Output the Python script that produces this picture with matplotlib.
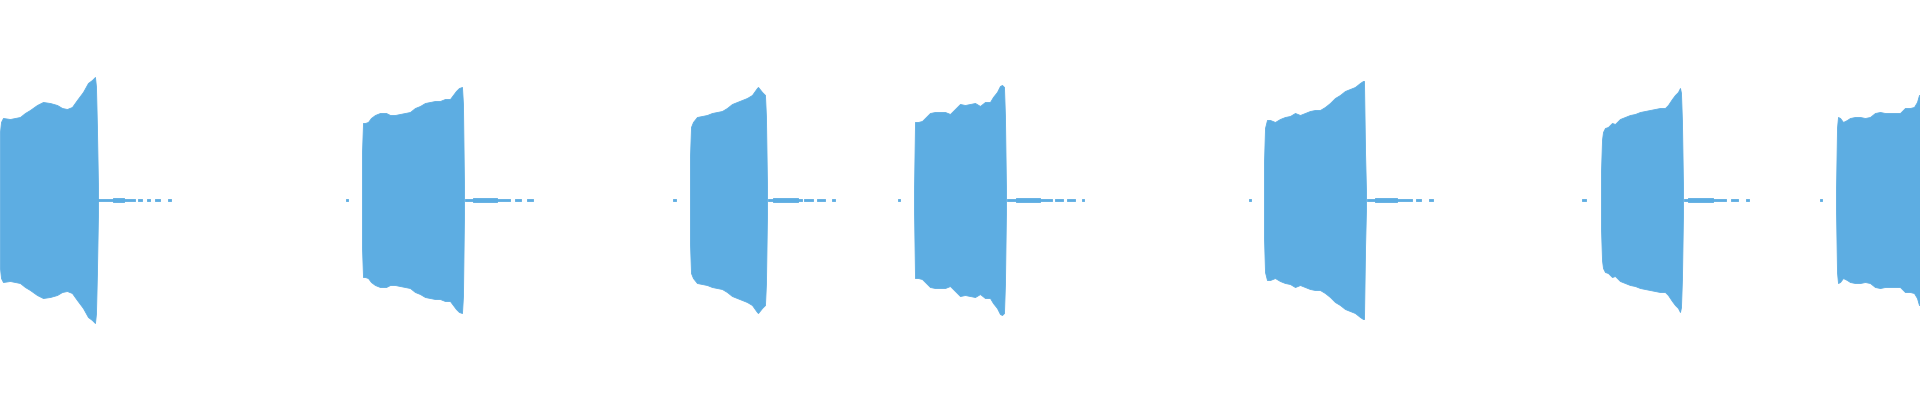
""" Waveform overview: seven tone bursts drawn as a min/max envelope.
"""
import matplotlib
matplotlib.use('Agg')
import matplotlib.pyplot as plt
import numpy as np

WAVE_COLOR = '#5dade2'

# Frame index of envelope samples and peak amplitude (full scale = 1.0)
burst_1_x = [0, 1, 3, 10, 20, 25, 30, 37, 43, 50, 57, 62, 67, 72, 77, 83, 88,
             92, 95, 96, 97, 98]
burst_1_amp = [0.34, 0.39, 0.41, 0.405, 0.415, 0.435, 0.45, 0.475, 0.49, 0.485,
               0.475, 0.46, 0.455, 0.465, 0.5, 0.54, 0.585, 0.6, 0.615, 0.565,
               0.35, 0.06]

burst_2_x = [362, 363, 365, 368, 371, 375, 380, 386, 390, 395, 400, 405, 410,
             415, 420, 425, 430, 435, 440, 445, 450, 453, 456, 459, 462, 463,
             464]
burst_2_amp = [0.235, 0.385, 0.385, 0.39, 0.41, 0.425, 0.435, 0.435, 0.425,
               0.425, 0.43, 0.435, 0.44, 0.46, 0.47, 0.485, 0.49, 0.495, 0.495,
               0.505, 0.505, 0.525, 0.545, 0.56, 0.565, 0.475, 0.065]

burst_3_x = [690, 691, 693, 697, 702, 707, 712, 717, 722, 727, 732, 737, 742,
             747, 752, 757, 758, 762, 765, 766, 767]
burst_3_amp = [0.215, 0.365, 0.39, 0.415, 0.42, 0.425, 0.435, 0.44, 0.445,
               0.46, 0.48, 0.49, 0.5, 0.51, 0.525, 0.56, 0.565, 0.54, 0.525,
               0.41, 0.065]

burst_4_x = [914, 915, 918, 922, 925, 930, 935, 940, 945, 950, 955, 960, 965,
             970, 975, 980, 985, 990, 993, 997, 1000, 1002, 1004, 1005, 1006]
burst_4_amp = [0.04, 0.39, 0.39, 0.395, 0.41, 0.435, 0.44, 0.44, 0.44, 0.43,
               0.455, 0.48, 0.475, 0.48, 0.485, 0.47, 0.49, 0.49, 0.515, 0.54,
               0.57, 0.575, 0.565, 0.41, 0.04]

burst_5_x = [1264, 1265, 1267, 1270, 1275, 1280, 1285, 1290, 1295, 1300, 1305,
             1310, 1315, 1320, 1325, 1330, 1335, 1340, 1345, 1350, 1355, 1360,
             1363, 1364, 1365, 1366]
burst_5_amp = [0.185, 0.36, 0.4, 0.4, 0.39, 0.405, 0.415, 0.42, 0.435, 0.425,
               0.435, 0.445, 0.45, 0.45, 0.465, 0.485, 0.51, 0.525, 0.545,
               0.555, 0.565, 0.585, 0.595, 0.595, 0.25, 0.04]

burst_6_x = [1601, 1602, 1603, 1605, 1608, 1612, 1615, 1620, 1625, 1630, 1635,
             1640, 1645, 1650, 1655, 1660, 1665, 1668, 1672, 1675, 1678, 1680,
             1681, 1682, 1683]
burst_6_amp = [0.14, 0.3, 0.34, 0.36, 0.365, 0.385, 0.38, 0.405, 0.415, 0.425,
               0.43, 0.44, 0.445, 0.45, 0.455, 0.46, 0.46, 0.475, 0.505, 0.525,
               0.54, 0.56, 0.535, 0.385, 0.06]

burst_7_x = [1836, 1837, 1838, 1840, 1843, 1847, 1850, 1855, 1860, 1865, 1870,
             1875, 1880, 1885, 1890, 1895, 1900, 1905, 1910, 1914, 1917, 1919,
             1920]
burst_7_amp = [0.04, 0.36, 0.415, 0.41, 0.39, 0.4, 0.41, 0.415, 0.415, 0.41,
               0.415, 0.435, 0.44, 0.435, 0.435, 0.435, 0.435, 0.46, 0.46,
               0.465, 0.49, 0.525, 0.525]

# Low level decay after each burst (start, end frame)
tail_lines = [(98, 135), (465, 510), (768, 802), (1007, 1052), (1367, 1412),
              (1684, 1726)]
tail_bumps = [(113, 124), (473, 497), (773, 798), (1016, 1040), (1375, 1397),
              (1688, 1713)]
tail_dashes = [(138, 142), (147, 150), (155, 160), (168, 171),
               (515, 521), (527, 533),
               (804, 813), (817, 825), (832, 835),
               (1055, 1063), (1067, 1075), (1082, 1084),
               (1416, 1421), (1429, 1433),
               (1731, 1738), (1746, 1749)]
pre_clicks = [(346, 348), (673, 676), (898, 900), (1249, 1251), (1582, 1586),
              (1820, 1822)]

TAIL_AMP = 0.004
BUMP_AMP = 0.01

BURSTS = [(burst_1_x, burst_1_amp), (burst_2_x, burst_2_amp),
          (burst_3_x, burst_3_amp), (burst_4_x, burst_4_amp),
          (burst_5_x, burst_5_amp), (burst_6_x, burst_6_amp),
          (burst_7_x, burst_7_amp)]


def draw_segment(ax, x0, x1, amp):
    """ Draw a flat low level piece of the waveform.
    """
    ax.fill_between([x0, x1], [-amp, -amp], [amp, amp], color=WAVE_COLOR,
                    linewidth=0.6, edgecolor=WAVE_COLOR)


fig = plt.figure(figsize=(19.2, 4.0), dpi=100)
ax = fig.add_axes([0, 0, 1, 1])

# Bursts
for x, amp in BURSTS:
    amp = np.array(amp)
    ax.fill_between(x, -amp, amp, color=WAVE_COLOR, linewidth=0.6,
                    edgecolor=WAVE_COLOR)

# Tails and clicks
for x0, x1 in tail_lines:
    draw_segment(ax, x0, x1, TAIL_AMP)
for x0, x1 in tail_bumps:
    draw_segment(ax, x0, x1, BUMP_AMP)
for x0, x1 in tail_dashes + pre_clicks:
    draw_segment(ax, x0, x1, TAIL_AMP)

ax.set_xlim(0, 1920)
ax.set_ylim(-1, 1)
ax.axis('off')

plt.savefig('out.png', dpi=100, facecolor='white')
